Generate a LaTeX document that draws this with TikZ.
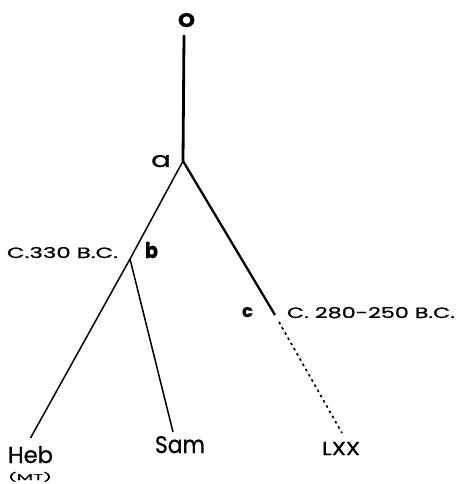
\documentclass[tikz,border=0pt]{standalone}
\usepackage{fontspec}
\setmainfont{Poppins}
\newfontfamily\labelfont{Poppins}[FakeBold=0.8]
% text boxed to a given width and height above the baseline
\newcommand{\fitto}[3]{\resizebox{#1bp}{#2bp}{#3}}
\begin{document}
\begin{tikzpicture}[x=1bp,y=-1bp,
  lbl/.style={inner sep=0pt, outer sep=0pt, text=black, anchor=base west, font=\labelfont},
  thick stem/.style={line width=2.8bp},
  branch/.style={line width=1.5bp},
  heavy branch/.style={line width=2.3bp},
  dotline/.style={line width=1.7bp, dash pattern=on 2.5bp off 3.5bp}]
  \useasboundingbox (0,0) rectangle (457,484);

  % points of the stemma
  \coordinate (a) at (183,161);
  \coordinate (b) at (130,259);
  \coordinate (c) at (275,315);

  % text nodes
  \node[lbl] (O) at (178,27) {\fitto{17}{14}{\bfseries O}};
  \node[lbl] (alab) at (151,167) {\fitto{20}{12}{a}};
  \node[lbl] (blab) at (145,258) {\fitto{13}{16}{\bfseries b}};
  \node[lbl] (bdate) at (7,258) {\fitto{111}{11}{C.330 B.C.}};
  \node[lbl] (clab) at (242,317) {\fitto{11}{10}{\bfseries c}};
  \node[lbl] (cdate) at (287,318) {\fitto{168}{11}{C. 280-250 B.C.}};
  \node[lbl] (Heb) at (8,463) {\fitto{45}{17}{Heb}};
  \node[lbl] (MT) at (8,480) {\fitto{44}{8}{(MT)}};
  \node[lbl] (Sam) at (155,453) {\fitto{50}{17}{Sam}};
  \node[lbl] (LXX) at (322,455) {\fitto{38}{13}{LXX}};

  % connectors
  \draw[thick stem] ([shift={(-2.5bp,-8bp)}]O.south) -- (a);
  \draw[branch] (a) -- (b);
  \draw[branch] (b) -- ([shift={(0bp,8bp)}]Heb.north);
  \draw[branch] (b) -- ([shift={(-7bp,4bp)}]Sam.north);
  \draw[heavy branch] (a) -- (c);
  \draw[dotline] ([shift={(4bp,-7bp)}]c) -- ([shift={(1bp,9bp)}]LXX.north);
\end{tikzpicture}
\end{document}
